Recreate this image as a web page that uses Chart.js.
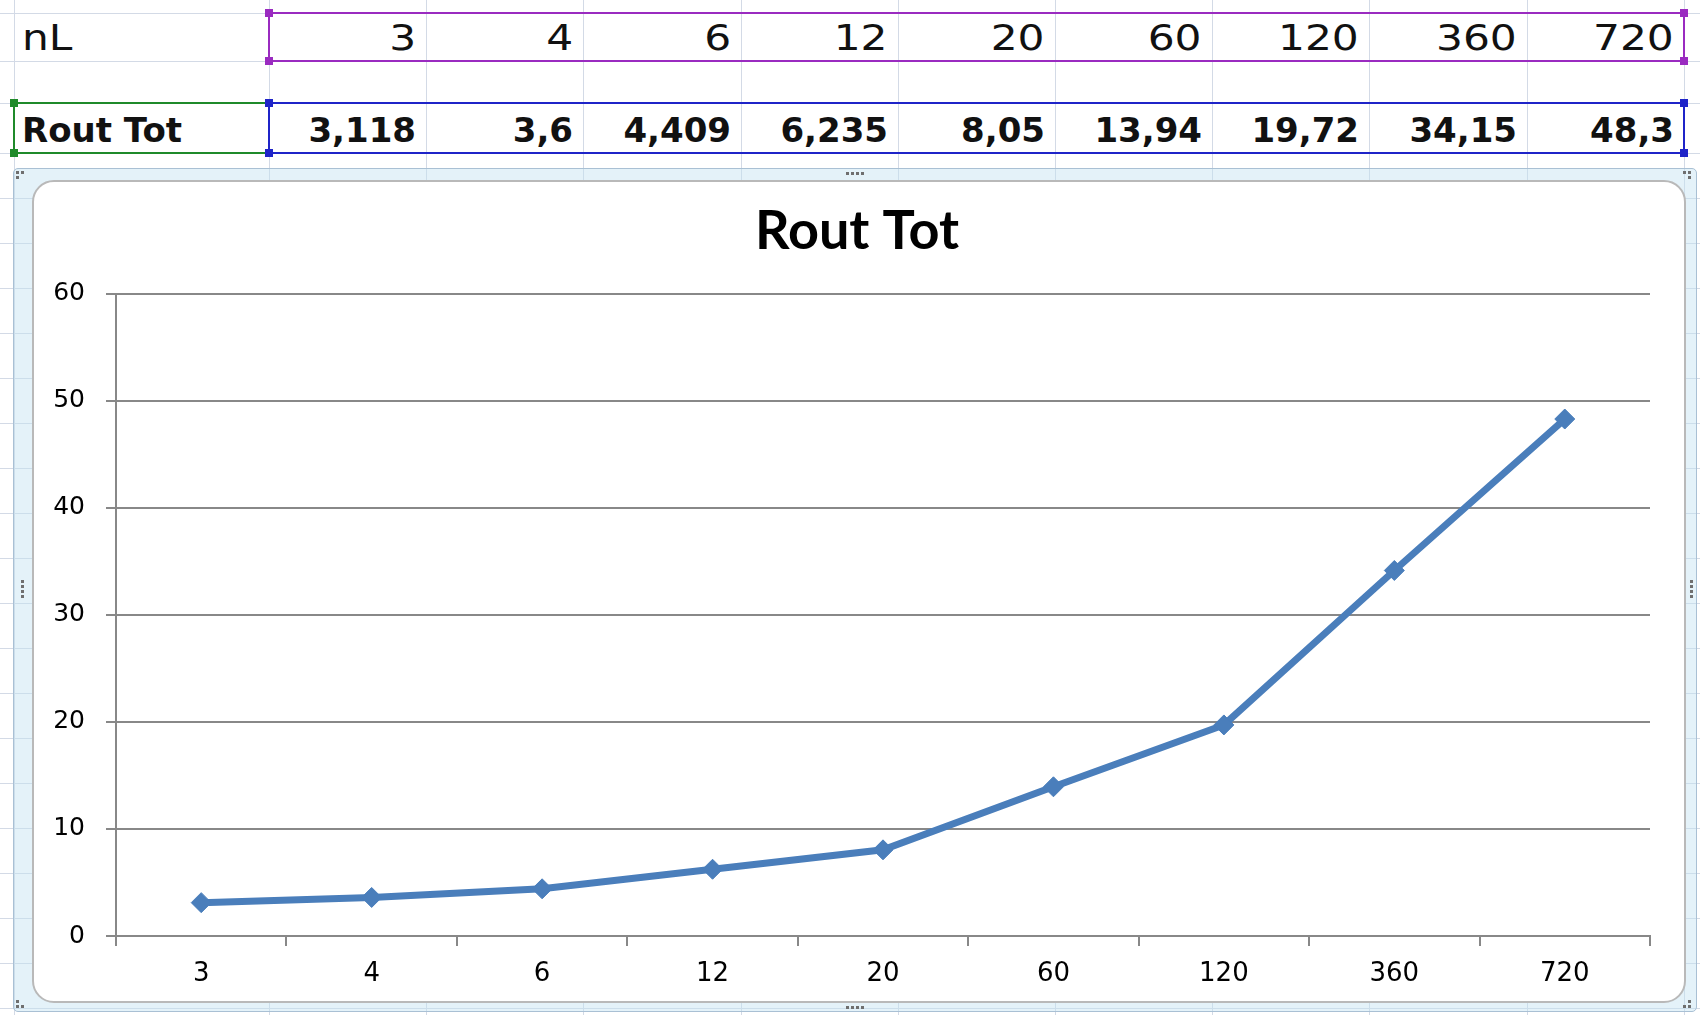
<!DOCTYPE html>
<html>
<head>
<meta charset="utf-8">
<script src="https://cdn.jsdelivr.net/npm/chart.js"></script>
<style>
  html, body { margin: 0; padding: 0; background: #fff; }
  body { width: 1700px; height: 1015px; position: relative; overflow: hidden; font-family: "DejaVu Sans", sans-serif; }
  .gl { position: absolute; background: #d3dae6; }
  .cell { position: absolute; box-sizing: border-box; white-space: nowrap; color: #111; }
  .cell span { display: inline-block; }
  .sel { position: absolute; box-sizing: border-box; border: 2px solid; }
  .hd { position: absolute; width: 8px; height: 8px; }
  .frame { position: absolute; left: 13px; top: 168px; width: 1684px; height: 844px; box-sizing: border-box;
           background: rgba(196, 226, 242, 0.45); border: 1px solid #a9c0d4; border-radius: 5px; }
  .inner { position: absolute; left: 32px; top: 180px; width: 1654px; height: 823px; box-sizing: border-box;
           background: #fff; border: 2px solid #b9b9b9; border-radius: 22px; }
  .dot { position: absolute; width: 3px; height: 3px; background: #6f6f6f; }
  #wrap { position: absolute; left: 33px; top: 181px; width: 1653px; height: 822px; }
</style>
</head>
<body>
<div class="frame"></div>
<div class="inner"></div>
<div id="wrap"><canvas id="grafico"></canvas></div>
<script>
const categories = ['3', '4', '6', '12', '20', '60', '120', '360', '720'];
const routTot = [3.118, 3.6, 4.409, 6.235, 8.05, 13.94, 19.72, 34.15, 48.3];
const yTicks = [0, 10, 20, 30, 40, 50, 60];

const rowName = 'nL';
const serieName = 'Rout Tot';

// foglio excel sotto il grafico
const colEdges = [14, 269, 426, 583, 741, 898, 1055, 1212, 1369, 1527, 1684];
const rowEdges = [13, 61, 103, 153];
for (let y = 198; y < 1015; y += 45) rowEdges.push(y);

function addDiv(cls, css) {
    const d = document.createElement('div');
    d.className = cls;
    Object.assign(d.style, css);
    document.body.insertBefore(d, document.body.firstChild);
    return d;
}

colEdges.forEach(x => addDiv('gl', { left: x + 'px', top: '0px', width: '1px', height: '1015px' }));
rowEdges.forEach(y => addDiv('gl', { left: '0px', top: y + 'px', width: '1700px', height: '1px' }));

function cell(text, x0, x1, y0, y1, bold, align) {
    const d = document.createElement('div');
    d.className = 'cell';
    const sp = document.createElement('span');
    sp.textContent = text;
    // la prima riga nel foglio appare piu' larga
    if (!bold) {
        sp.style.transform = 'scaleX(1.21)';
        sp.style.transformOrigin = align === 'left' ? 'left center' : 'right center';
    }
    d.appendChild(sp);
    Object.assign(d.style, {
        left: x0 + 'px', width: (x1 - x0) + 'px', top: (y0 + (bold ? 2 : 1)) + 'px', height: (y1 - y0) + 'px',
        lineHeight: (y1 - y0) + 'px', fontSize: bold ? '34px' : '35px', fontWeight: bold ? 'bold' : 'normal',
        textAlign: align, paddingLeft: '8px', paddingRight: '10px'
    });
    document.body.appendChild(d);
}

cell(rowName, colEdges[0], colEdges[1], rowEdges[0], rowEdges[1], false, 'left');
cell(serieName, colEdges[0], colEdges[1], rowEdges[2], rowEdges[3], true, 'left');
categories.forEach((c, i) => {
    cell(c, colEdges[i + 1], colEdges[i + 2], rowEdges[0], rowEdges[1], false, 'right');
    cell(String(routTot[i]).replace('.', ','), colEdges[i + 1], colEdges[i + 2], rowEdges[2], rowEdges[3], true, 'right');
});

function selection(x0, x1, y0, y1, color) {
    const s = document.createElement('div');
    s.className = 'sel';
    Object.assign(s.style, { left: (x0 - 1) + 'px', top: (y0 - 1) + 'px', width: (x1 - x0 + 2) + 'px', height: (y1 - y0 + 2) + 'px', borderColor: color });
    document.body.appendChild(s);
    [[x0, y0], [x1, y0], [x0, y1], [x1, y1]].forEach(p => {
        const h = document.createElement('div');
        h.className = 'hd';
        Object.assign(h.style, { left: (p[0] - 4) + 'px', top: (p[1] - 4) + 'px', background: color });
        document.body.appendChild(h);
    });
}
selection(colEdges[1], colEdges[10], rowEdges[0], rowEdges[1], '#9a2bc0');
selection(colEdges[0], colEdges[1], rowEdges[2], rowEdges[3], '#1f8a2a');
selection(colEdges[1], colEdges[10], rowEdges[2], rowEdges[3], '#1f24c8');

// maniglie del grafico
function dots(x, y, n, vertical) {
    for (let i = 0; i < n; i++) {
        const d = document.createElement('div');
        d.className = 'dot';
        d.style.left = (x + (vertical ? 0 : i * 5)) + 'px';
        d.style.top = (y + (vertical ? i * 5 : 0)) + 'px';
        document.body.appendChild(d);
    }
}
dots(16, 171, 2, false); dots(16, 176, 1, false);
dots(1683, 171, 2, false); dots(1688, 176, 1, false);
dots(16, 1005, 2, false); dots(16, 1000, 1, false);
dots(1683, 1005, 2, false); dots(1688, 1000, 1, false);
dots(846, 172, 4, false); dots(846, 1006, 4, false);
dots(21, 580, 4, true); dots(1690, 580, 4, true);

const ctx = document.getElementById('grafico').getContext('2d');
const grigio = '#888888';

new Chart(ctx, {
    type: 'line',
    data: {
        labels: categories,
        datasets: [{
            label: serieName,
            data: routTot,
            borderColor: '#4a7ebb',
            backgroundColor: '#4a7ebb',
            borderWidth: 7,
            tension: 0,
            pointStyle: 'rectRot',
            pointRadius: 10,
            pointHoverRadius: 10,
            pointBorderWidth: 1
        }]
    },
    options: {
        responsive: true,
        maintainAspectRatio: false,
        animation: false,
        layout: { padding: { left: 0, right: 5, top: 0, bottom: 0 } },
        plugins: {
            legend: { display: false },
            tooltip: { enabled: false },
            title: {
                display: true,
                text: serieName,
                color: '#000',
                font: { family: 'Lato', size: 54, weight: 'bold', lineHeight: 1.2 },
                padding: { top: 18, bottom: 30 }
            }
        },
        scales: {
            x: {
                offset: true,
                grid: { offset: true, drawOnChartArea: false, drawTicks: true, tickLength: 10, color: grigio, lineWidth: 2 },
                border: { display: true, color: grigio, width: 2 },
                ticks: { color: '#000', padding: 13, maxRotation: 0, font: { family: 'DejaVu Sans', size: 26 } },
                afterFit: s => { s.height = 67; }
            },
            y: {
                min: yTicks[0],
                max: yTicks[yTicks.length - 1],
                grid: { color: grigio, lineWidth: 2, tickLength: 10 },
                border: { display: true, color: grigio, width: 2 },
                ticks: { stepSize: yTicks[1] - yTicks[0], color: '#000', padding: 21, font: { family: 'DejaVu Sans', size: 25 } },
                afterFit: s => { s.width = 83; }
            },
            // spazio vuoto a destra del grafico
            margine: {
                type: 'linear',
                position: 'right',
                grid: { display: false },
                border: { display: false },
                ticks: { display: false },
                afterFit: s => { s.width = 31; }
            }
        }
    }
});
</script>
</body>
</html>
